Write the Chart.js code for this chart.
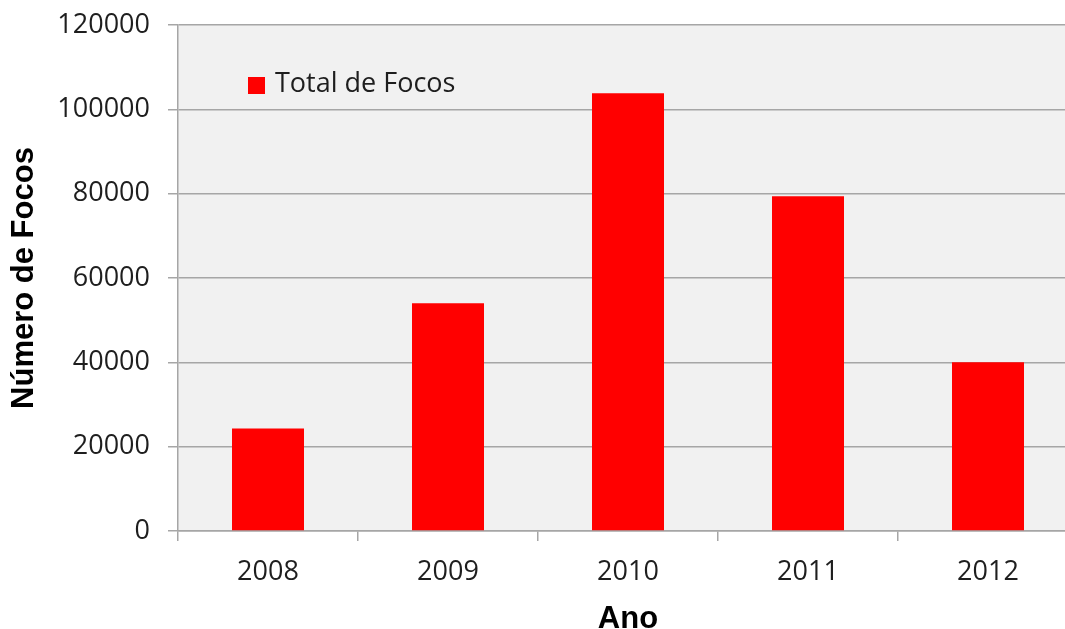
<!DOCTYPE html>
<html>
<head>
<meta charset="utf-8">
<script src="https://cdn.jsdelivr.net/npm/chart.js@4"></script>
<style>
  html, body { margin: 0; padding: 0; background: #fff; overflow: hidden; }
  canvas { display: block; }
</style>
</head>
<body>
<canvas id="focosChart" width="1080" height="629"></canvas>
<script>
const anos = ["2008", "2009", "2010", "2011", "2012"];
const totalFocos = [24300, 54000, 103800, 79400, 40000];
const serieLabel = "Total de Focos";
const yMax = 120000;
const yStep = 20000;

const gridColor = "#a6a6a6";
const textColor = "#1e1e1e";
const tickFont = { family: "Open Sans", size: 27 };
const titleFont = { family: "Liberation Sans", size: 31, weight: "bold" };

// grey plot background like the original
const plotBg = {
    id: "plotBg",
    beforeDraw(chart) {
        const { ctx, chartArea: a } = chart;
        ctx.save();
        ctx.fillStyle = "#f1f1f1";
        ctx.fillRect(a.left, a.top, a.right - a.left, a.bottom - a.top);
        ctx.restore();
    }
};

// legend sits inside the plot, top left
const innerLegend = {
    id: "innerLegend",
    afterDraw(chart) {
        const { ctx, chartArea: a } = chart;
        const ds = chart.data.datasets[0];
        const x = a.left + 70, y = a.top + 52;
        ctx.save();
        ctx.fillStyle = ds.backgroundColor;
        ctx.fillRect(x, y, 17, 17);
        ctx.fillStyle = textColor;
        ctx.font = "27px 'Open Sans'";
        ctx.textBaseline = "middle";
        ctx.fillText(ds.label, x + 27, y + 7);
        ctx.restore();
    }
};

const ctx = document.getElementById("focosChart").getContext("2d");

new Chart(ctx, {
    type: "bar",
    data: {
        labels: anos,
        datasets: [{
            label: serieLabel,
            data: totalFocos,
            backgroundColor: "#ff0000",
            borderWidth: 0,
            barPercentage: 0.4,
            categoryPercentage: 1.0
        }]
    },
    options: {
        responsive: false,
        animation: false,
        layout: { padding: { top: 25, right: 2, left: 0, bottom: 0 } },
        plugins: {
            legend: { display: false },
            tooltip: { enabled: false }
        },
        scales: {
            x: {
                offset: true,
                grid: {
                    offset: true,
                    drawOnChartArea: false,
                    drawTicks: true,
                    tickLength: 10,
                    color: gridColor,
                    lineWidth: 1.5
                },
                border: { color: gridColor, width: 1.5 },
                ticks: { color: textColor, font: tickFont, padding: 15 },
                title: {
                    display: true,
                    text: "Ano",
                    color: "#000",
                    font: titleFont,
                    padding: { top: 0, bottom: -9 }
                },
                afterFit(scale) { scale.height = 98; }
            },
            y: {
                min: 0,
                max: yMax,
                ticks: {
                    stepSize: yStep,
                    color: textColor,
                    font: tickFont,
                    padding: 18,
                    callback: v => String(v)
                },
                grid: {
                    color: gridColor,
                    lineWidth: 1.5,
                    tickLength: 10
                },
                border: { color: gridColor, width: 1.5 },
                title: {
                    display: true,
                    text: "Número de Focos",
                    color: "#000",
                    font: titleFont,
                    padding: { top: 6, bottom: 0 }
                },
                afterFit(scale) {
                    scale.width = 178;
                    scale.paddingTop = 0;
                    scale.paddingBottom = 0;
                }
            }
        }
    },
    plugins: [plotBg, innerLegend]
});
</script>
</body>
</html>
